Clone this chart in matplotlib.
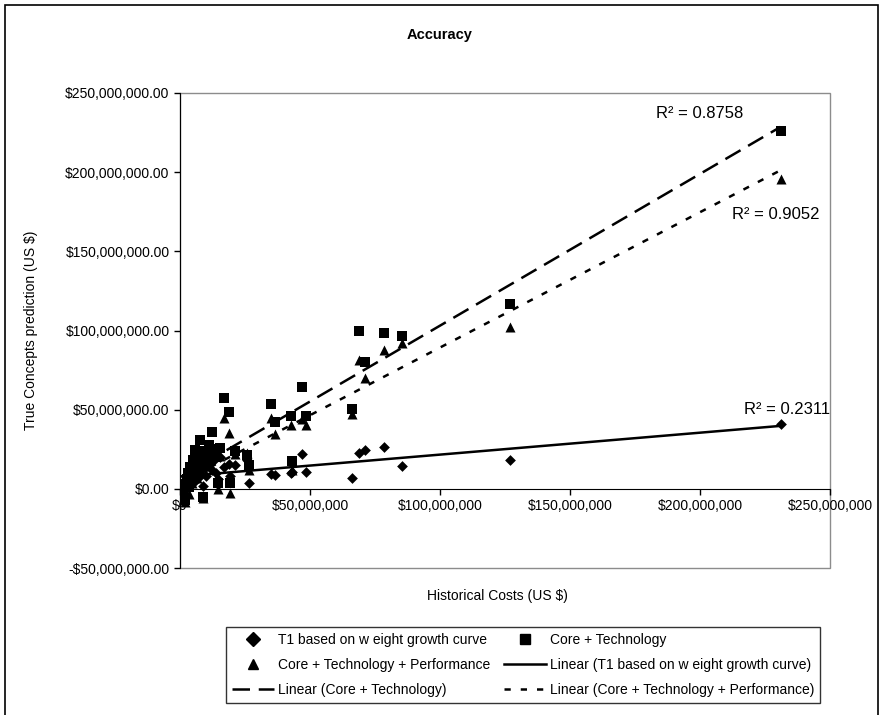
"""
Accuracy chart: True Concepts prediction vs historical costs, with linear trendlines
"""
import numpy as np
import matplotlib
matplotlib.use("Agg")
import matplotlib.pyplot as plt
from matplotlib.patches import Rectangle
from matplotlib.lines import Line2D
from matplotlib.ticker import FuncFormatter

# Values in millions of US $
hist_cost = [0.5, 1.0, 1.5, 2.0, 2.5, 3.0, 3.5, 4.0, 4.5, 5.0, 5.8, 6.5, 7.0, 7.7, 8.5,
             9.0, 9.5, 10.0, 11.0, 12.3, 13.0, 14.0, 14.6, 15.5, 17.0, 19.0, 19.3, 21.0,
             25.8, 26.5, 35.0, 36.5, 42.5, 43.0, 47.0, 48.5, 66.0, 69.0, 71.0, 78.5,
             85.5, 127.0, 231.0]
t1_weight = [-3, 2, 5, 1, 8, 3, 10, 6, 12, 4, 9, 14, 7, 11, 15,
             2, 13, 8, 16, 12, 18, 10, 6, 20, 14, 16, 8, 15,
             18, 4, 9.5, 9, 10, 10.8, 22, 10.8, 7, 22.8, 24.7, 26.6,
             14.6, 18.4, 41]
core_tech = [-6, -2, 3, -7, 6, 10, 1, 14, 8, 18, 24.7, 12, 20, 31, 16,
             -5, 24, 22, 28, 36, 25, 20, 3.8, 26, 57.6, 48.7, 3.8, 24,
             21.5, 15, 53.8, 42, 46, 17.7, 64.6, 46, 50.6, 100, 80, 98.7,
             96.8, 117, 226]
core_tech_perf = [-7, -4, 0, -8, 2, 5, -3, 9, 4, 12, 16, 7, 15, 22, 10,
                  -6, 18, 20, 23, 27, 22, 24, 0, 21, 45, 35.4, -2.5, 22,
                  22.8, 12, 45, 34.5, 40.5, 12, 44, 40.5, 47, 81.6, 70, 88,
                  92, 102, 195.6]

series_names = ["T1 based on w eight growth curve", "Core + Technology",
                "Core + Technology + Performance"]
r2_labels = ["R\u00b2 = 0.2311", "R\u00b2 = 0.8758", "R\u00b2 = 0.9052"]
r2_pos = [(233.5, 50), (200, 237), (229, 173)]  # label anchor, millions

x_ticks = [0, 50, 100, 150, 200, 250]
y_ticks = [-50, 0, 50, 100, 150, 200, 250]

plt.rcParams['font.family'] = ['Liberation Sans', 'DejaVu Sans']
plt.rcParams['font.size'] = 10

x = np.array(hist_cost) * 1e6
ys = [np.array(v) * 1e6 for v in (t1_weight, core_tech, core_tech_perf)]
markers = ['D', 's', '^']
msizes = [30, 44, 52]
styles = ['-', (0, (7, 3.5)), (0, (2.5, 4))]

fig = plt.figure(figsize=(8.8, 7.15), dpi=100)
ax = fig.add_axes([180 / 880, 147 / 715, 650 / 880, 475 / 715])

for y, m, s in zip(ys, markers, msizes):
    ax.scatter(x, y, marker=m, s=s, color='black', linewidths=0, zorder=3)

# linear trendlines, fitted on the data like Excel does
xx = np.array([x.min(), x.max()])
for y, ls in zip(ys, styles):
    k, b = np.polyfit(x, y, 1)
    ax.plot(xx, k * xx + b, color='black', lw=1.8, linestyle=ls, zorder=4)

for lab, (px, py) in zip(r2_labels, r2_pos):
    ax.text(px * 1e6, py * 1e6, lab, fontsize=12, ha='center', va='center', zorder=5)

ax.set_xlim(0, 250e6)
ax.set_ylim(-50e6, 250e6)
ax.set_xticks([t * 1e6 for t in x_ticks])
ax.set_yticks([t * 1e6 for t in y_ticks])
ax.xaxis.set_major_formatter(FuncFormatter(lambda v, p: "${:,.0f}".format(v)))
ax.yaxis.set_major_formatter(FuncFormatter(
    lambda v, p: ("-${:,.2f}" if v < 0 else "${:,.2f}").format(abs(v))))
ax.tick_params(direction='out', length=4, width=1, colors='black', labelsize=10)

# x axis crosses at zero, plot area gets a grey frame
ax.spines['bottom'].set_position(('data', 0))
ax.spines['top'].set_visible(False)
ax.spines['right'].set_visible(False)
ax.add_patch(Rectangle((0, 0), 1, 1, transform=ax.transAxes, fill=False,
                       edgecolor='#8c8c8c', lw=1, zorder=0, clip_on=False))

fig.text(0.5, 0.951, "Accuracy", ha='center', va='center', fontsize=10.5, fontweight='bold')
fig.text(0.565, 0.166, "Historical Costs (US $)", ha='center', va='center', fontsize=10)
fig.text(0.035, 0.538, "True Concepts prediction (US $)", ha='center', va='center',
         rotation=90, fontsize=10)

# legend, row-major order as in the reference
h_sc = [Line2D([], [], marker=m, color='black', ls='none', markersize=7) for m in markers]
h_ln = [Line2D([], [], color='black', lw=1.8, linestyle=ls) for ls in styles]
lin_names = ["Linear (" + n + ")" for n in series_names]
handles = [h_sc[0], h_sc[2], h_ln[1], h_sc[1], h_ln[0], h_ln[2]]
labels = [series_names[0], series_names[2], lin_names[1],
          series_names[1], lin_names[0], lin_names[2]]
leg = fig.legend(handles, labels, ncol=2, loc='center',
                 bbox_to_anchor=(523 / 880, 1 - 665 / 715), frameon=True,
                 fancybox=False, edgecolor='black', fontsize=10, handlelength=3.0,
                 columnspacing=1.0, labelspacing=0.8, borderpad=0.45, handletextpad=0.3)
leg.get_frame().set_linewidth(1)

# outer chart border
fig.patches.append(Rectangle((5 / 880, -0.02), 873 / 880, 1.013, transform=fig.transFigure,
                             fill=False, edgecolor='black', lw=1.2))

fig.savefig("out.png", dpi=100)
